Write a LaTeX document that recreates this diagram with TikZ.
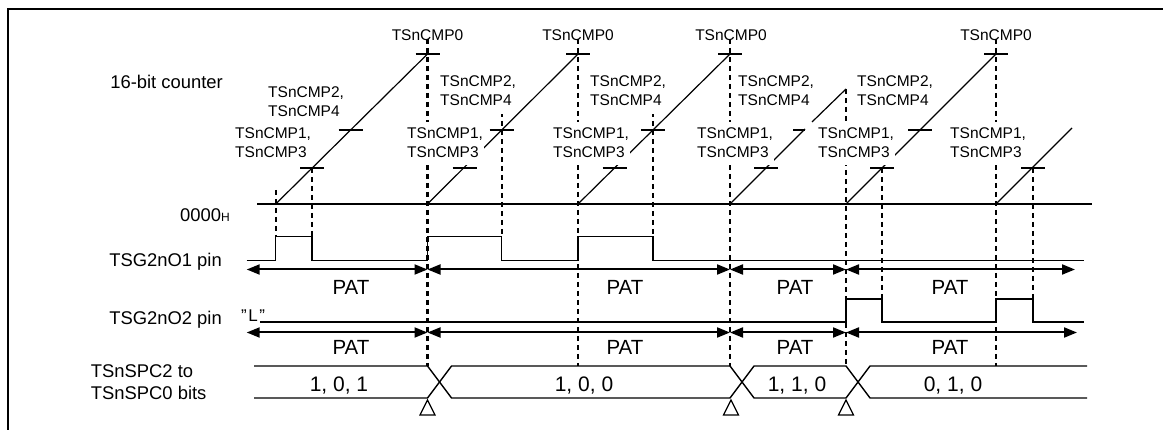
\documentclass[tikz,border=0pt]{standalone}
\usepackage{fontspec}
\setmainfont{Liberation Sans}
\usetikzlibrary{arrows.meta}
\begin{document}
\begin{tikzpicture}[x=1pt,y=-1pt,
  thinl/.style={line width=1.2pt},
  sig/.style={line width=1.3pt},
  busl/.style={line width=1.4pt},
  dsh/.style={line width=2.3pt, dash pattern=on 5.5pt off 3.5pt},
  cmptick/.style={line width=1.3pt},
  patarrow/.style={line width=2pt, {Triangle[length=13pt,width=10pt]}-{Triangle[length=13pt,width=10pt]}},
  cmplbl/.style={font=\fontsize{15.5}{19}\selectfont, fill=white, inner xsep=1pt, inner ysep=2.5pt, anchor=base west},
  toplbl/.style={font=\fontsize{15.5}{19}\selectfont, inner sep=0pt, anchor=base},
  leftlbl/.style={font=\fontsize{18.4}{22}\selectfont, inner sep=0pt},
  patlbl/.style={font=\fontsize{20.5}{24}\selectfont, inner sep=0pt, anchor=base},
  buslbl/.style={font=\fontsize{21}{24}\selectfont, inner sep=0pt, anchor=base},
  trig/.style={line width=1.2pt, fill=white}
]
\useasboundingbox (0,0) rectangle (1163,430);
% frame
\draw[line width=1.8pt] (8.3,431) -- (8.3,9.2) -- (1164,9.2);

% zero line
\draw[thinl] (257,204) -- (1092,204);

% dashed event lines
\draw[dsh] (275.7,190) -- (275.7,237);
\draw[dsh] (312,168) -- (312,237);
\draw[dsh] (427.5,39) -- (427.5,366);
\draw[dsh] (501.7,112) -- (501.7,236);
\draw[dsh] (578,39) -- (578,366);
\draw[dsh] (653,112) -- (653,236);
\draw[dsh] (730,39) -- (730,366);
\draw[dsh] (846,89) -- (846,366);
\draw[dsh] (882,168) -- (882,299);
\draw[dsh] (996,39) -- (996,366);
\draw[dsh] (1033,168) -- (1033,299);

% counter ramps
\draw[thinl] (275.7,204) -- (427.5,54);
\draw[thinl] (427.5,204) -- (578,54);
\draw[thinl] (578,204) -- (730,54);
\draw[thinl] (730,204) -- (805,129);
\draw[thinl] (812,122) -- (846,89);
\draw[thinl] (846,204) -- (996,54);
\draw[thinl] (996,204) -- (1072,128);

% compare ticks
\foreach \x in {427.5,578,730,996} \draw[cmptick] (\x-12,54) -- (\x+12,54);
\foreach \x in {350.6,501.7,653,920} \draw[cmptick] (\x-12,130) -- (\x+12,130);
\draw[cmptick] (793,130) -- (805,130);
\foreach \x in {312,464.5,614.5,766,882,1033} \draw[cmptick] (\x-12,168) -- (\x+12,168);

% labels on the counter
\node[toplbl] (c0a) at (427.5,40.5) {TSnCMP0};
\node[toplbl] (c0b) at (578,40.5) {TSnCMP0};
\node[toplbl] (c0c) at (731,40.5) {TSnCMP0};
\node[toplbl] (c0d) at (996,40.5) {TSnCMP0};

\node[cmplbl] (c2a) at (267,98) {\begin{tabular}[t]{@{}l@{}}TSnCMP2,\\TSnCMP4\end{tabular}};
\node[cmplbl] (c2b) at (439,86.7) {\begin{tabular}[t]{@{}l@{}}TSnCMP2,\\TSnCMP4\end{tabular}};
\node[cmplbl] (c2c) at (589,86.7) {\begin{tabular}[t]{@{}l@{}}TSnCMP2,\\TSnCMP4\end{tabular}};
\node[cmplbl] (c2d) at (737,86.7) {\begin{tabular}[t]{@{}l@{}}TSnCMP2,\\TSnCMP4\end{tabular}};
\node[cmplbl] (c2e) at (856,86.7) {\begin{tabular}[t]{@{}l@{}}TSnCMP2,\\TSnCMP4\end{tabular}};

\node[cmplbl] (c1a) at (234,138.3) {\begin{tabular}[t]{@{}l@{}}TSnCMP1,\\TSnCMP3\end{tabular}};
\node[cmplbl] (c1b) at (406,138.3) {\begin{tabular}[t]{@{}l@{}}TSnCMP1,\\TSnCMP3\end{tabular}};
\node[cmplbl] (c1c) at (552,138.3) {\begin{tabular}[t]{@{}l@{}}TSnCMP1,\\TSnCMP3\end{tabular}};
\node[cmplbl] (c1d) at (696,138.3) {\begin{tabular}[t]{@{}l@{}}TSnCMP1,\\TSnCMP3\end{tabular}};
\node[cmplbl] (c1e) at (817,138.3) {\begin{tabular}[t]{@{}l@{}}TSnCMP1,\\TSnCMP3\end{tabular}};
\node[cmplbl] (c1f) at (949,138.3) {\begin{tabular}[t]{@{}l@{}}TSnCMP1,\\TSnCMP3\end{tabular}};

% TSG2nO1 pin
\draw[sig] (246.7,260.5) -- (275.7,260.5) -- (275.7,236.5) -- (312,236.5) -- (312,260.5)
  -- (427.5,260.5) -- (427.5,236.5) -- (501.7,236.5) -- (501.7,260.5) -- (578,260.5)
  -- (578,236.5) -- (653,236.5) -- (653,260.5) -- (1084,260.5);
\draw[patarrow] (246.7,269.5) -- (427.5,269.5);
\draw[patarrow] (427.5,269.5) -- (730,269.5);
\draw[patarrow] (730,269.5) -- (846,269.5);
\draw[patarrow] (846,269.5) -- (1075,269.5);
\node[patlbl] (p1a) at (351,295) {PAT};
\node[patlbl] (p1b) at (625,295) {PAT};
\node[patlbl] (p1c) at (795,295) {PAT};
\node[patlbl] (p1d) at (950,295) {PAT};

% TSG2nO2 pin
\draw[sig] (260,322) -- (846,322) -- (846,299) -- (882,299) -- (882,322) -- (996,322)
  -- (996,299) -- (1033,299) -- (1033,322) -- (1084,322);
\draw[patarrow] (246.7,332.5) -- (427.5,332.5);
\draw[patarrow] (427.5,332.5) -- (730,332.5);
\draw[patarrow] (730,332.5) -- (846,332.5);
\draw[patarrow] (846,332.5) -- (1077,332.5);
\node[patlbl] (p2a) at (351,355) {PAT};
\node[patlbl] (p2b) at (625,355) {PAT};
\node[patlbl] (p2c) at (795,355) {PAT};
\node[patlbl] (p2d) at (950,355) {PAT};
\node[font=\fontsize{17}{20}\selectfont, inner sep=0pt, anchor=base west] (lo) at (241,322) {"\kern1.5pt L\kern1.5pt"};

% bus
\draw[busl] (254,366) -- (427.5,366) -- (451.5,398) -- (730,398) -- (754,366) -- (846,366) -- (870,398) -- (1087,398);
\draw[busl] (254,398) -- (427.5,398) -- (451.5,366) -- (730,366) -- (754,398) -- (846,398) -- (870,366) -- (1087,366);
\node[buslbl] (b1) at (339,391.5) {1, 0, 1};
\node[buslbl] (b2) at (584,391.5) {1, 0, 0};
\node[buslbl] (b3) at (797,391.5) {1, 1, 0};
\node[buslbl] (b4) at (953,391.5) {0, 1, 0};
\foreach \x in {427.5,731,846} \draw[trig] (\x,400) -- (\x-7.5,415) -- (\x+7.5,415) -- cycle;

% left labels
\node[leftlbl, anchor=base east] (lc) at (223,89) {16-bit counter};
\node[leftlbl, anchor=base east] (lz) at (230,222) {0000{\fontsize{12}{12}\selectfont H}};
\node[leftlbl, anchor=base east] (lp1) at (222,266.5) {TSG2nO1 pin};
\node[leftlbl, anchor=base east] (lp2) at (222,324.5) {TSG2nO2 pin};
\node[leftlbl, anchor=base west] (lb) at (90.7,378) {\begin{tabular}[t]{@{}l@{}}TSnSPC2 to\\TSnSPC0 bits\end{tabular}};
\end{tikzpicture}
\end{document}
